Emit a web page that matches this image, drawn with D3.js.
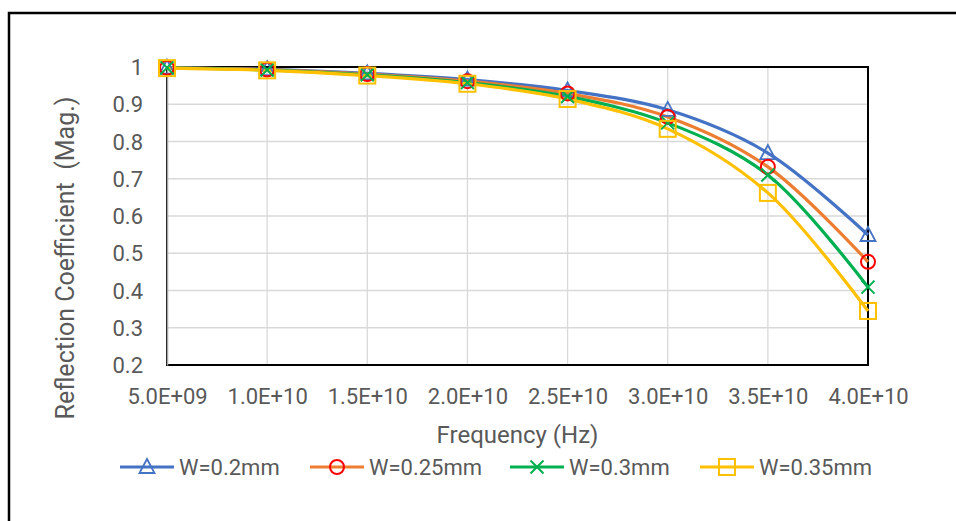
<!DOCTYPE html>
<html>
<head>
<meta charset="utf-8">
<script src="https://cdn.jsdelivr.net/npm/d3@7"></script>
<style>
  html, body { margin: 0; padding: 0; background: #fff; }
  svg { display: block; }
  text { font-family: Roboto, "Liberation Sans", sans-serif; fill: #595959; }
</style>
</head>
<body>
<svg id="chart" width="956" height="521"></svg>
<script>
const frequencies = [5e9, 1e10, 1.5e10, 2e10, 2.5e10, 3e10, 3.5e10, 4e10];
const xTickLabels = ["5.0E+09","1.0E+10","1.5E+10","2.0E+10","2.5E+10","3.0E+10","3.5E+10","4.0E+10"];
const yTicks = [0.2, 0.3, 0.4, 0.5, 0.6, 0.7, 0.8, 0.9, 1];
const seriesNames = ["W=0.2mm", "W=0.25mm", "W=0.3mm", "W=0.35mm"];
const w020 = [0.998, 0.994, 0.983, 0.966, 0.937, 0.885, 0.769, 0.549];
const w025 = [0.998, 0.993, 0.981, 0.962, 0.929, 0.866, 0.732, 0.477];
const w030 = [0.998, 0.992, 0.979, 0.958, 0.921, 0.850, 0.710, 0.409];
const w035 = [0.997, 0.991, 0.977, 0.955, 0.914, 0.834, 0.662, 0.345];

const series = [
  {name: seriesNames[0], values: w020, line: "#4472c4", marker: "#4472c4", shape: "triangle"},
  {name: seriesNames[1], values: w025, line: "#ed7d31", marker: "#ff0000", shape: "circle"},
  {name: seriesNames[2], values: w030, line: "#00b050", marker: "#00b050", shape: "cross"},
  {name: seriesNames[3], values: w035, line: "#ffc000", marker: "#ffc000", shape: "square"}
];

const svg = d3.select("#chart");
const L = 167, R = 868, T = 67, B = 365;

// outer border (top & left visible)
svg.append("rect").attr("x", 9).attr("y", 13).attr("width", 1000).attr("height", 1000)
  .attr("fill", "none").attr("stroke", "#000").attr("stroke-width", 2.5);

const x = d3.scaleLinear().domain([5e9, 4e10]).range([L, R]);
const y = d3.scaleLinear().domain([0.2, 1]).range([B, T]);

// gridlines
svg.append("g").selectAll("line").data(yTicks).join("line")
  .attr("x1", L).attr("x2", R).attr("y1", d => y(d)).attr("y2", d => y(d))
  .attr("stroke", "#d9d9d9").attr("stroke-width", 1.3);
svg.append("g").selectAll("line").data(frequencies).join("line")
  .attr("y1", T).attr("y2", B).attr("x1", d => x(d)).attr("x2", d => x(d))
  .attr("stroke", "#d9d9d9").attr("stroke-width", 1.3);

// plot border
svg.append("rect").attr("x", L).attr("y", T).attr("width", R - L).attr("height", B - T)
  .attr("fill", "none").attr("stroke", "#000").attr("stroke-width", 2);

// axes
const xAxis = d3.axisBottom(x).tickValues(frequencies).tickSize(0).tickPadding(0)
  .tickFormat((d, i) => xTickLabels[i]);
const gx = svg.append("g").attr("transform", `translate(0,${B})`).call(xAxis);
gx.select(".domain").remove();
gx.selectAll("text").attr("dy", null).attr("y", 39).style("font-size", "22px").attr("fill", "#595959");

const yAxis = d3.axisLeft(y).tickValues(yTicks).tickSize(0).tickPadding(0)
  .tickFormat(d => d === 1 ? "1" : d3.format(".1f")(d));
const gy = svg.append("g").attr("transform", `translate(${L},0)`).call(yAxis);
gy.select(".domain").attr("stroke", "#a6a6a6").attr("stroke-width", 1.5);
gy.selectAll("text").attr("x", -24).attr("dy", "0.35em").style("font-size", "22px").attr("fill", "#595959");

// axis titles
svg.append("text").attr("x", (L + R) / 2).attr("y", 443).attr("text-anchor", "middle")
  .style("font-size", "24px").text("Frequency (Hz)");
svg.append("text").attr("transform", "translate(74,258) rotate(-90)").attr("text-anchor", "middle")
  .style("font-size", "25px").style("white-space", "pre").attr("xml:space", "preserve")
  .text("Reflection Coefficient  (Mag.)");

// lines
const line = d3.line().x((d, i) => x(frequencies[i])).y(d => y(d)).curve(d3.curveCatmullRom.alpha(0.5));

function drawMarker(g, shape, color, cx, cy) {
  if (shape === "triangle") {
    g.append("path").attr("d", `M${cx},${cy - 8}L${cx + 7.5},${cy + 6}L${cx - 7.5},${cy + 6}Z`)
      .attr("fill", "none").attr("stroke", color).attr("stroke-width", 1.8);
  } else if (shape === "circle") {
    g.append("circle").attr("cx", cx).attr("cy", cy).attr("r", 7)
      .attr("fill", "none").attr("stroke", color).attr("stroke-width", 2);
  } else if (shape === "cross") {
    g.append("path").attr("d", `M${cx - 6.5},${cy - 6.5}L${cx + 6.5},${cy + 6.5}M${cx - 6.5},${cy + 6.5}L${cx + 6.5},${cy - 6.5}`)
      .attr("fill", "none").attr("stroke", color).attr("stroke-width", 2);
  } else {
    g.append("rect").attr("x", cx - 8).attr("y", cy - 8).attr("width", 16).attr("height", 16)
      .attr("fill", "none").attr("stroke", color).attr("stroke-width", 2);
  }
}

series.forEach(s => {
  svg.append("path").datum(s.values).attr("d", line)
    .attr("fill", "none").attr("stroke", s.line).attr("stroke-width", 3.2);
});
series.forEach(s => {
  const g = svg.append("g");
  s.values.forEach((v, i) => drawMarker(g, s.shape, s.marker, x(frequencies[i]), y(v)));
});

// legend
const legendX = [120, 310, 510, 700];
series.forEach((s, i) => {
  const g = svg.append("g").attr("transform", `translate(${legendX[i]},467)`);
  g.append("line").attr("x1", 0).attr("x2", 54).attr("y1", 0).attr("y2", 0)
    .attr("stroke", s.line).attr("stroke-width", 3.2);
  drawMarker(g, s.shape, s.marker, 27, 0);
  g.append("text").attr("x", 59).attr("y", 0).attr("dy", "0.35em")
    .style("font-size", "22px").text(s.name);
});
</script>
</body>
</html>
